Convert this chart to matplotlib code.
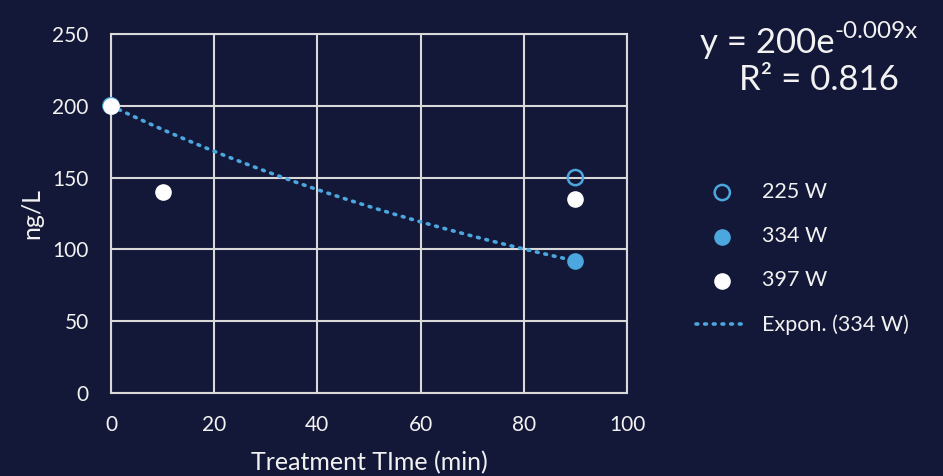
import numpy as np
import matplotlib.pyplot as plt

# data
t_225 = [0, 90]
y_225 = [200, 150]
t_334 = [0, 90]
y_334 = [200, 92]
t_397 = [0, 10, 90]
y_397 = [200, 140, 135]
eq_base = "y = 200e"
eq_sup = "-0.009x"
r2_text = "R² = 0.816"

bg = "#141838"
blue = "#4ba7dd"
grid = "#d9d9d9"
txt = "#f2f2f2"

plt.rcParams['font.family'] = ['Lato', 'DejaVu Sans']

fig = plt.figure(figsize=(9.43, 4.76), dpi=100, facecolor=bg)
ax = fig.add_axes([0.1177, 0.1744, 0.5472, 0.7542], facecolor=bg)

# exponential trendline of the 334 W series
b, a = np.polyfit(t_334, np.log(y_334), 1)
tt = np.linspace(0, 90, 100)
yy = np.exp(a) * np.exp(b * tt)

ax.plot(tt, yy, color=blue, lw=2.6, ls=(0, (0.5, 1.9)), dash_capstyle='round',
        label="Expon. (334 W)", zorder=3)
ax.scatter(t_225, y_225, s=120, facecolor='none', edgecolor=blue, linewidth=1.8,
           label="225 W", zorder=4, clip_on=False)
ax.scatter(t_334, y_334, s=120, color=blue, label="334 W", zorder=5, clip_on=False)
ax.scatter(t_397, y_397, s=120, color="white", label="397 W", zorder=6, clip_on=False)

ax.set_xlim(0, 100)
ax.set_ylim(0, 250)
ax.set_xticks(range(0, 101, 20))
ax.set_yticks(range(0, 251, 50))
ax.grid(True, color=grid, lw=1.5)
ax.set_axisbelow(True)
for s in ax.spines.values():
    s.set_color(grid)
    s.set_linewidth(1.5)
ax.tick_params(length=0, colors=txt, labelsize=15)
ax.tick_params(axis='y', pad=16)
ax.tick_params(axis='x', pad=16)
ax.set_xlabel("Treatment TIme (min)", color=txt, fontsize=18, labelpad=11.5)
ax.set_ylabel("ng/L", color=txt, fontsize=18, labelpad=6.5)

h, l = ax.get_legend_handles_labels()
order = [1, 2, 3, 0]
leg = fig.legend([h[i] for i in order], [l[i] for i in order], loc='upper left',
                 bbox_to_anchor=(0.718, 0.658), frameon=False, fontsize=15.5,
                 labelspacing=1.12, handlelength=2.4, handletextpad=0.65)
for t in leg.get_texts():
    t.set_color(txt)

# trendline equation, superscript as its own text
base = fig.text(0.742, 0.91, eq_base, color=txt, fontsize=25, ha='left', va='center')
ax.annotate(eq_sup, xy=(1, 0.52), xycoords=base, ha='left', va='bottom',
            color=txt, fontsize=17.5, annotation_clip=False)
fig.text(0.868, 0.832, r2_text, color=txt, fontsize=25, ha='center', va='center')

fig.savefig("out.png", dpi=100, facecolor=bg)
